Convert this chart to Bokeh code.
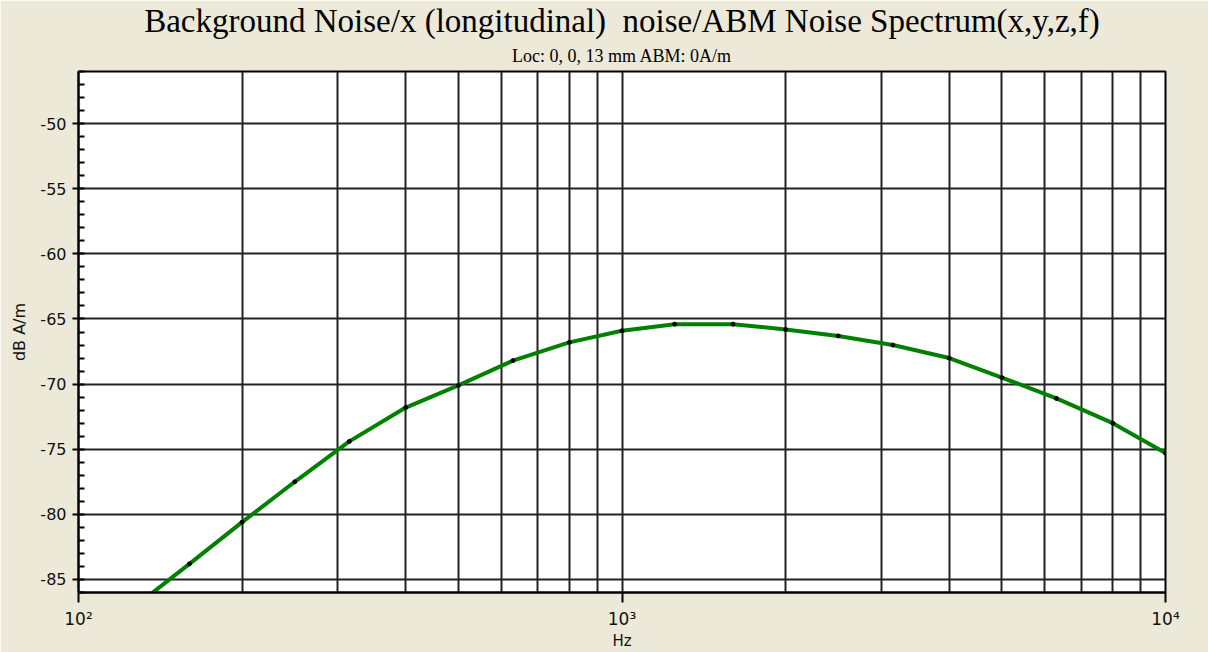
from bokeh.plotting import figure
from bokeh.models import FixedTicker, Title, Range1d
from bokeh.embed import file_html
from bokeh.resources import INLINE

freq_hz = [125, 160, 200, 250, 315, 400, 500, 630, 800, 1000, 1250, 1600,
           2000, 2500, 3150, 4000, 5000, 6300, 8000, 10000]
level_db = [-87.3, -83.8, -80.6, -77.5, -74.4, -71.8, -70.1, -68.2, -66.8, -65.9,
            -65.4, -65.4, -65.8, -66.3, -67.0, -68.0, -69.5, -71.1, -73.0, -75.3]

x_major = [100, 1000, 10000]
x_minor = [200, 300, 400, 500, 600, 700, 800, 900, 2000, 3000, 4000, 5000, 6000, 7000, 8000, 9000]
x_labels = {100: "10²", 1000: "10³", 10000: "10⁴"}
y_major = [-85, -80, -75, -70, -65, -60, -55, -50]
y_labels = {v: "-%d" % (-v) for v in y_major}
y_minor = list(range(-86, -45))

title_text = "Background Noise/x (longitudinal)\u00a0 noise/ABM Noise Spectrum(x,y,z,f)"
subtitle_text = "Loc: 0, 0, 13 mm ABM: 0A/m"

BG = "#ECE9D8"

p = figure(width=1208, height=652, x_axis_type="log", output_backend="svg",
           toolbar_location=None, x_range=Range1d(100, 10000), y_range=Range1d(-86, -46),
           min_border_left=78, min_border_right=43, min_border_top=70, min_border_bottom=57,
           background_fill_color="white", border_fill_color=BG)
p.title.visible = False

p.add_layout(Title(text=subtitle_text, align="center", offset=-14, standoff=11,
                   text_font="Liberation Serif", text_font_size="18px",
                   text_font_style="normal", text_color="black"), "above")
p.add_layout(Title(text=title_text, align="center", offset=-14, standoff=0,
                   text_font="Liberation Serif", text_font_size="33px",
                   text_font_style="normal", text_color="black"), "above")

p.outline_line_color = "black"
p.outline_line_width = 2

xa = p.xaxis[0]
xa.ticker = FixedTicker(ticks=x_major, minor_ticks=x_minor)
xa.major_label_overrides = x_labels
xa.axis_label = "Hz"
xa.axis_label_text_font = "DejaVu Sans"
xa.axis_label_text_font_size = "15px"
xa.axis_label_text_font_style = "normal"
xa.axis_label_text_color = "#111111"
xa.axis_label_standoff = 0
xa.major_label_text_font = "DejaVu Sans"
xa.major_label_text_font_size = "17px"
xa.major_label_text_color = "#111111"
xa.major_label_standoff = 6
xa.major_tick_out = 10
xa.major_tick_in = 0
xa.minor_tick_out = 0
xa.minor_tick_in = 0
xa.axis_line_width = 2
xa.axis_line_color = "black"
xa.major_tick_line_width = 2

ya = p.yaxis[0]
ya.ticker = FixedTicker(ticks=y_major, minor_ticks=y_minor)
ya.major_label_overrides = y_labels
ya.axis_label = "dB A/m"
ya.axis_label_text_font = "DejaVu Sans"
ya.axis_label_text_font_size = "16px"
ya.axis_label_text_font_style = "normal"
ya.axis_label_text_color = "#111111"
ya.axis_label_standoff = 8
ya.major_label_text_font = "DejaVu Sans"
ya.major_label_text_font_size = "16px"
ya.major_label_text_color = "#111111"
ya.major_label_standoff = 6
ya.major_tick_out = 6
ya.major_tick_in = 0
ya.minor_tick_in = 6
ya.minor_tick_out = 0
ya.axis_line_width = 2
ya.axis_line_color = "black"
ya.major_tick_line_width = 2
ya.minor_tick_line_width = 2

p.xgrid.grid_line_color = "#222222"
p.xgrid.grid_line_width = 2
p.xgrid.minor_grid_line_color = "#222222"
p.xgrid.minor_grid_line_width = 2
p.ygrid.grid_line_color = "#222222"
p.ygrid.grid_line_width = 2

p.line(freq_hz, level_db, line_color="#008000", line_width=4)
p.scatter(freq_hz, level_db, size=4, fill_color="black", line_color="black")

open("out.html", "w").write(file_html(p, INLINE))
